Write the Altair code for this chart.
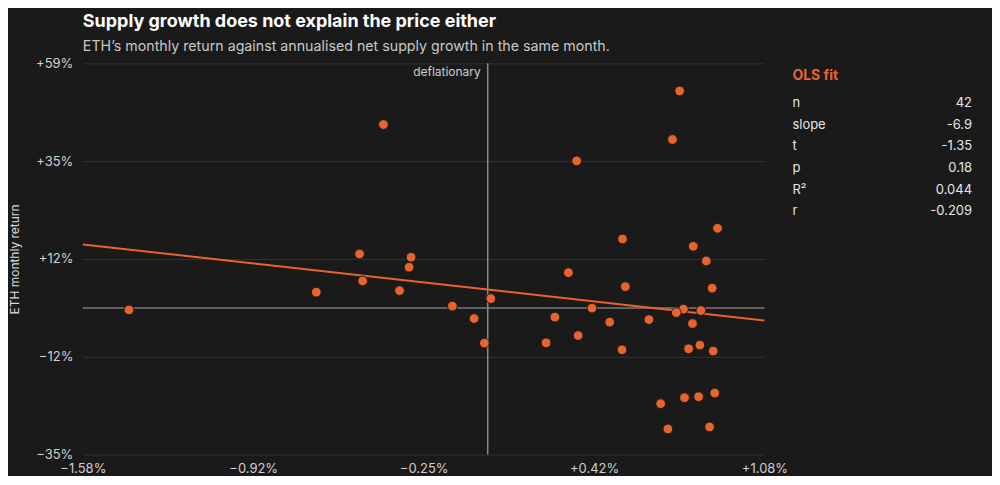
import altair as alt
import pandas as pd

# Annualised net supply growth (%) and ETH monthly return (%)
supply_growth = [-1.400, -0.407, -0.500, -0.299, -0.307, -0.488, -0.669, -0.344, -0.138, -0.053,
                 0.749, 0.721, 0.347, 0.897, 0.526, 0.802, 0.853, 0.315, 0.537, 0.876,
                 0.012, 0.407, 0.764, 0.736, 0.832, 0.262, 0.476, 0.629, 0.799, 0.353,
                 -0.013, 0.228, 0.524, 0.784, 0.828, 0.880, 0.675, 0.768, 0.823, 0.886,
                 0.703, 0.866]
monthly_return = [-0.46, 44.17, 13.00, 12.21, 9.81, 6.51, 3.80, 4.18, 0.43, -2.55,
                  52.25, 40.57, 35.42, 19.18, 16.61, 14.85, 11.32, 8.51, 5.14, 4.76,
                  2.26, -0.05, -0.29, -1.11, -0.62, -2.21, -3.41, -2.79, -3.75, -6.63,
                  -8.46, -8.39, -10.07, -9.83, -8.94, -10.38, -23.05, -21.61, -21.37, -20.48,
                  -29.13, -28.65]

stat_header = "OLS fit"
stat_names = ["n", "slope", "t", "p", "R²", "r"]
stat_values = ["42", "-6.9", "-1.35", "0.18", "0.044", "-0.209"]

x_domain = [-1.58, 1.08]
y_domain = [-35.3, 58.9]
x_ticks = [-1.58, -0.9151, -0.25, 0.4151, 1.08]
y_ticks = [-35.3, -11.75, 11.8, 35.35, 58.9]

ORANGE = "#E8642C"
BG = "#1a1a1a"

df = pd.DataFrame({"x": supply_growth, "y": monthly_return})
stats = pd.DataFrame({"name": stat_names, "value": stat_values, "row": list(range(len(stat_names)))})
header = pd.DataFrame({"name": [stat_header], "row": [-1]})

xenc = alt.X("x:Q", scale=alt.Scale(domain=x_domain, nice=False, zero=False),
             axis=alt.Axis(values=x_ticks, title=None, grid=False, domain=False, ticks=False,
                           labelFlush=False,
                           labelExpr="(datum.value > 0 ? '+' : '') + format(datum.value, '.2f') + '%'",
                           labelFontSize=13, labelColor="#cfcfcf", labelPadding=8))
yenc = alt.Y("y:Q", scale=alt.Scale(domain=y_domain, nice=False, zero=False),
             axis=alt.Axis(values=y_ticks, title="ETH monthly return", grid=True, gridColor="#333333",
                           domain=False, ticks=False, labelFlush=False,
                           labelExpr="(datum.value > 0 ? '+' : '') + format(datum.value, '.0f') + '%'",
                           labelFontSize=13, labelColor="#cfcfcf", labelPadding=10,
                           titleFontSize=12, titleColor="#d8d8d8", titleFontWeight="normal",
                           titlePadding=14))

base = alt.Chart(df)

zero_line = alt.Chart(pd.DataFrame({"y": [0.0]})).mark_rule(color="#7a7a7a", strokeWidth=1.5).encode(
    y=alt.Y("y:Q", scale=alt.Scale(domain=y_domain, nice=False, zero=False)))
vline = alt.Chart(pd.DataFrame({"x": [0.0]})).mark_rule(color="#8a8a8a", strokeWidth=1.5).encode(
    x=alt.X("x:Q", scale=alt.Scale(domain=x_domain, nice=False, zero=False)))
vlabel = alt.Chart(pd.DataFrame({"x": [0.0], "y": [58.9], "t": ["deflationary"]})).mark_text(
    align="right", baseline="top", dx=-7, dy=4, fontSize=12, color="#cccccc").encode(
    x="x:Q", y="y:Q", text="t:N")

fit = base.transform_regression("x", "y", extent=x_domain).mark_line(
    color=ORANGE, strokeWidth=2).encode(x="x:Q", y="y:Q")

points = base.mark_circle(size=95, color=ORANGE, opacity=1, stroke="#1a1a1a", strokeWidth=1).encode(
    x=xenc, y=yenc)

main = alt.layer(points, zero_line, vline, fit, points, vlabel).properties(
    width=683, height=392,
    title=alt.TitleParams(
        "Supply growth does not explain the price either",
        subtitle="ETH\u2019s monthly return against annualised net supply growth in the same month.",
        anchor="start", frame="group", fontSize=18, fontWeight="bold", color="#ffffff",
        subtitleFontSize=14.25, subtitleColor="#c8c8c8", subtitlePadding=9, offset=3))

rows = alt.Y("row:Q", axis=None,
             scale=alt.Scale(domain=[-1.85, 5.5], reverse=True, nice=False, zero=False))
stat_head = alt.Chart(header).mark_text(align="left", fontSize=14, fontWeight="bold",
                                        color=ORANGE, dy=-6).encode(
    y=rows, x=alt.value(0), text="name:N")
stat_left = alt.Chart(stats).mark_text(align="left", fontSize=13, color="#e6e6e6").encode(
    y=rows, x=alt.value(0), text="name:N")
stat_right = alt.Chart(stats).mark_text(align="right", fontSize=13, color="#e6e6e6").encode(
    y=rows, x=alt.value(180), text="value:N")
panel = alt.layer(stat_head, stat_left, stat_right).properties(width=180, height=159)

chart = alt.hconcat(main, panel, spacing=4).configure(
    background=BG, padding={"left": 0, "top": 4, "right": 20, "bottom": 0}, font="Inter"
).configure_view(stroke=None).configure_axis(labelFont="Inter", titleFont="Inter")

chart.save("out.html", embed_options={"renderer": "svg", "actions": False})
